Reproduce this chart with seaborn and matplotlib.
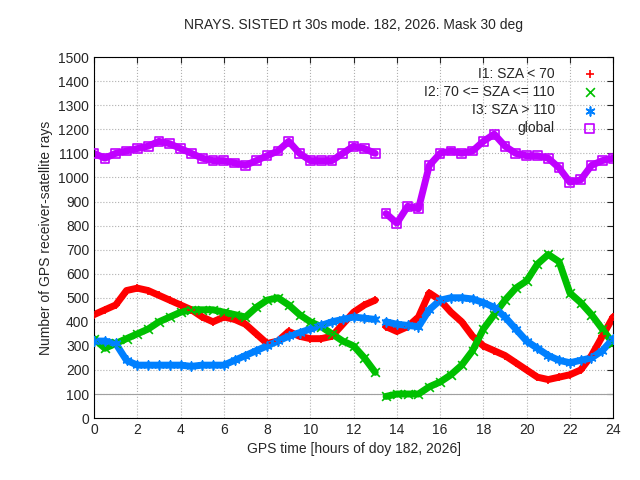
import numpy as np
import pandas as pd
import matplotlib
matplotlib.use('Agg')
import matplotlib.pyplot as plt
import seaborn as sns

hours = np.arange(0, 24.01, 0.5)
i1 = [430, 450, 470, 530, 540, 530, 510, 490, 470, 450, 420, 400, 420, 410, 390, 350, 310, 320,
      360, 340, 330, 330, 340, 390, 440, 470, 490,
      380, 360, 380, 420, 520, 490, 440, 400, 340, 300, 280, 260, 230, 200, 170, 160, 170, 180,
      200, 260, 340, 420]
i2 = [330, 290, 310, 330, 350, 370, 400, 420, 440, 450, 450, 450, 440, 430, 420, 460, 490, 500,
      470, 430, 400, 380, 350, 320, 300, 250, 190,
      90, 100, 100, 100, 130, 150, 180, 220, 280, 370, 430, 490, 540, 570, 640, 680, 650, 520,
      480, 430, 370, 310]
i3 = [320, 320, 310, 240, 220, 220, 220, 220, 220, 215, 220, 220, 220, 240, 260, 280, 300, 320,
      340, 355, 370, 385, 400, 410, 420, 415, 410,
      400, 390, 385, 380, 450, 490, 500, 500, 495, 480, 460, 420, 370, 320, 290, 260, 240, 230,
      240, 250, 280, 330]
glob = [1100, 1080, 1100, 1110, 1120, 1130, 1150, 1140, 1120, 1100, 1080, 1070, 1070, 1060, 1050,
        1070, 1090, 1110, 1150, 1100, 1070, 1070, 1070, 1100, 1130, 1120, 1100,
        850, 810, 880, 870, 1050, 1100, 1110, 1100, 1110, 1150, 1180, 1130, 1100, 1090, 1090,
        1080, 1040, 980, 990, 1050, 1070, 1080]

series = [
    ('I1: SZA < 70', i1, '#ff0000', '+'),
    ('I2: 70 <= SZA <= 110', i2, '#00c000', 'x'),
    ('I3: SZA > 110', i3, '#0080ff', (6, 2, 0)),
    ('global', glob, '#c000ff', 's'),
]

sns.set_style('white')
plt.rcParams['font.family'] = ['Liberation Sans', 'DejaVu Sans']
fig = plt.figure(figsize=(6.4, 4.8), dpi=100)
ax = fig.add_axes([0.147, 0.129, 0.811, 0.752])

for name, vals, col, mk in series:
    df = pd.DataFrame({'h': hours, 'v': vals})
    for seg in (df[df.h <= 13], df[df.h > 13]):
        ax.plot(seg.h, seg.v, color=col, lw=5, solid_capstyle='round', zorder=2)
    sns.scatterplot(data=df, x='h', y='v', ax=ax, color=col, marker=mk, s=40,
                    linewidth=1.2, label=name, zorder=3,
                    facecolor='none' if mk == 's' else col, edgecolor=col)

ax.axhline(100, color='#a0a0a0', lw=0.8, zorder=1)
ax.set_xlim(0, 24)
ax.set_ylim(0, 1500)
ax.set_xticks(range(0, 25, 2))
ax.set_yticks(range(0, 1501, 100))
ax.grid(True, color='#b0b0b0', linestyle=':', lw=0.8)
for s in ax.spines.values():
    s.set_color('black')
    s.set_linewidth(0.8)
ax.tick_params(direction='in', length=4, labelsize=10, top=True, right=True)
ax.set_xlabel('GPS time [hours of doy 182, 2026]', fontsize=10)
ax.set_ylabel('Number of GPS receiver-satellite rays', fontsize=10)
ax.set_title('NRAYS. SISTED rt 30s mode. 182, 2026. Mask 30 deg', fontsize=10, pad=20)
ax.legend(loc='upper right', markerfirst=False, frameon=False, fontsize=10,
          handletextpad=1.5, borderaxespad=0.3, labelspacing=0.3)
fig.savefig('out.png', dpi=100)
